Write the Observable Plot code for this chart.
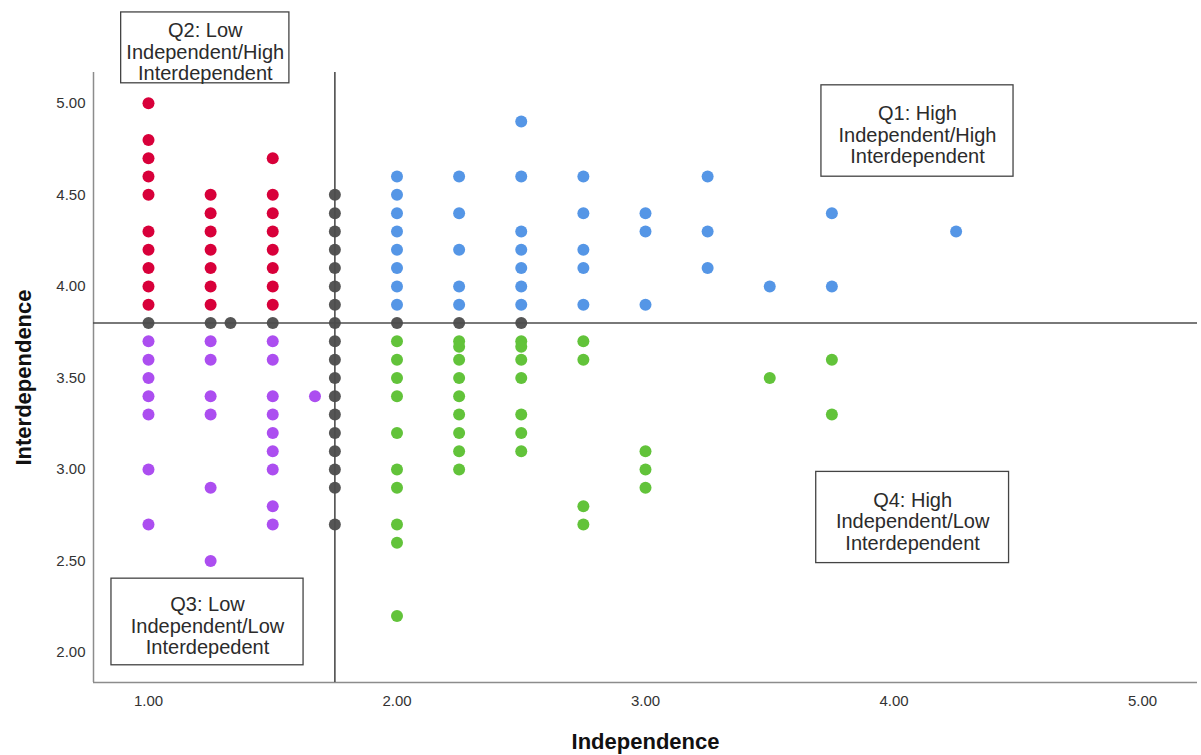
<!DOCTYPE html>
<html><head><meta charset="utf-8">
<script src="https://cdn.jsdelivr.net/npm/d3@7"></script>
<script src="https://cdn.jsdelivr.net/npm/@observablehq/plot@0.6"></script>
<style>
html,body{margin:0;padding:0;background:#fff;}
#chart{width:1201px;height:755px;}
svg{font-family:"Liberation Sans",Arial,sans-serif;}
</style></head><body><div id="chart"></div>
<script>
// [Independence, Interdependence]
const q1Points = [
  [2.0,4.6],[2.0,4.5],[2.0,4.4],[2.0,4.3],[2.0,4.2],[2.0,4.1],[2.0,4.0],[2.0,3.9],
  [2.25,4.6],[2.25,4.4],[2.25,4.2],[2.25,4.0],[2.25,3.9],
  [2.5,4.9],[2.5,4.6],[2.5,4.3],[2.5,4.2],[2.5,4.1],[2.5,4.0],[2.5,3.9],
  [2.75,4.6],[2.75,4.4],[2.75,4.2],[2.75,4.1],[2.75,3.9],
  [3.0,4.4],[3.0,4.3],[3.0,3.9],
  [3.25,4.6],[3.25,4.3],[3.25,4.1],
  [3.5,4.0],
  [3.75,4.4],[3.75,4.0],
  [4.25,4.3]
];
const q2Points = [
  [1.0,5.0],[1.0,4.8],[1.0,4.7],[1.0,4.6],[1.0,4.5],[1.0,4.3],[1.0,4.2],[1.0,4.1],[1.0,4.0],[1.0,3.9],
  [1.25,4.5],[1.25,4.4],[1.25,4.3],[1.25,4.2],[1.25,4.1],[1.25,4.0],[1.25,3.9],
  [1.5,4.7],[1.5,4.5],[1.5,4.4],[1.5,4.3],[1.5,4.2],[1.5,4.1],[1.5,4.0],[1.5,3.9]
];
const q3Points = [
  [1.0,3.7],[1.0,3.6],[1.0,3.5],[1.0,3.4],[1.0,3.3],[1.0,3.0],[1.0,2.7],
  [1.25,3.7],[1.25,3.6],[1.25,3.4],[1.25,3.3],[1.25,2.9],[1.25,2.5],
  [1.5,3.7],[1.5,3.6],[1.5,3.4],[1.5,3.3],[1.5,3.2],[1.5,3.1],[1.5,3.0],[1.5,2.8],[1.5,2.7],
  [1.67,3.4]
];
const q4Points = [
  [2.0,3.7],[2.0,3.6],[2.0,3.5],[2.0,3.4],[2.0,3.2],[2.0,3.0],[2.0,2.9],[2.0,2.7],[2.0,2.6],[2.0,2.2],
  [2.25,3.7],[2.25,3.67],[2.25,3.6],[2.25,3.5],[2.25,3.4],[2.25,3.3],[2.25,3.2],[2.25,3.1],[2.25,3.0],
  [2.5,3.7],[2.5,3.67],[2.5,3.6],[2.5,3.5],[2.5,3.3],[2.5,3.2],[2.5,3.1],
  [2.75,3.7],[2.75,3.6],[2.75,2.8],[2.75,2.7],
  [3.0,3.1],[3.0,3.0],[3.0,2.9],
  [3.5,3.5],
  [3.75,3.6],[3.75,3.3]
];
const onCutoffPoints = [
  [1.0,3.8],[1.25,3.8],[1.33,3.8],[1.5,3.8],
  [1.75,4.5],[1.75,4.4],[1.75,4.3],[1.75,4.2],[1.75,4.1],[1.75,4.0],[1.75,3.9],[1.75,3.8],
  [1.75,3.7],[1.75,3.6],[1.75,3.5],[1.75,3.4],[1.75,3.3],[1.75,3.2],[1.75,3.1],[1.75,3.0],[1.75,2.9],[1.75,2.7],
  [2.0,3.8],[2.25,3.8],[2.5,3.8]
];
const groupNames = ["Q1", "Q2", "Q3", "Q4", "Cutoff"];
const xTicks = [1, 2, 3, 4, 5];
const yTicks = [2.0, 2.5, 3.0, 3.5, 4.0, 4.5, 5.0];
const independenceCutoff = 1.75;
const interdependenceCutoff = 3.8;
const quadrantLabels = [
  "Q1: High\nIndependent/High\nInterdependent",
  "Q2: Low\nIndependent/High\nInterdependent",
  "Q3: Low\nIndependent/Low\nInterdepedent",
  "Q4: High\nIndependent/Low\nInterdependent"
];

// ---- layout / styling ----
const groupColors = ["#5596e6", "#d8003a", "#ac4ef0", "#62c33a", "#555555"];
const xDomain = [0.7787, 5.2213];
const yDomain = [1.837, 5.168];
// annotation box placement (data units)
const boxExtents = [
  {x1: 3.708, x2: 4.481, y1: 4.599, y2: 5.098},
  {x1: 0.890, x2: 1.567, y1: 5.109, y2: 5.496},
  {x1: 0.851, x2: 1.624, y1: 1.931, y2: 2.404},
  {x1: 3.687, x2: 4.463, y1: 2.489, y2: 2.987}
];
const boxes = quadrantLabels.map((label, i) => ({label, ...boxExtents[i],
  cx: (boxExtents[i].x1 + boxExtents[i].x2) / 2, cy: (boxExtents[i].y1 + boxExtents[i].y2) / 2}));

const pointSets = [q1Points, q2Points, q3Points, q4Points, onCutoffPoints];
const dots = pointSets.flatMap((pts, i) => pts.map(([x, y]) => ({x, y, group: groupNames[i]})));

const font = '"Liberation Sans", Arial, sans-serif';

const chart = Plot.plot({
  width: 1201,
  height: 755,
  marginLeft: 93,
  marginRight: 4,
  marginTop: 72,
  marginBottom: 73,
  style: {fontFamily: font, fontSize: "15px", background: "#fff", overflow: "visible"},
  x: {domain: xDomain},
  y: {domain: yDomain},
  color: {domain: groupNames, range: groupColors},
  marks: [
    Plot.axisX({ticks: xTicks, tickFormat: d3.format(".2f"), tickSize: 0, tickPadding: 13, fontSize: 15, fill: "#333", label: null}),
    Plot.axisY({ticks: yTicks, tickFormat: d3.format(".2f"), tickSize: 0, tickPadding: 8, fontSize: 15, fill: "#333", label: null}),
    Plot.ruleX([xDomain[0]], {stroke: "#8c8c8c", strokeWidth: 1.5}),
    Plot.ruleY([yDomain[0]], {stroke: "#8c8c8c", strokeWidth: 1.5}),
    Plot.dot(dots, {x: "x", y: "y", fill: "group", r: 6, stroke: "none"}),
    Plot.ruleX([independenceCutoff], {stroke: "#4d4d4d", strokeWidth: 1.6}),
    Plot.ruleY([interdependenceCutoff], {stroke: "#4d4d4d", strokeWidth: 1.6}),
    Plot.rect(boxes, {x1: "x1", x2: "x2", y1: "y1", y2: "y2", fill: "#fff", stroke: "#444", strokeWidth: 1.3}),
    Plot.text(boxes, {x: "cx", y: "cy", text: "label", fontSize: 20, lineHeight: 1.075, fill: "#2b2b2b", dy: 4}),
    Plot.text(["Independence"], {frameAnchor: "bottom", dy: 66, fontSize: 22, fontWeight: "bold", fill: "#111"}),
    Plot.text(["Interdependence"], {frameAnchor: "left", textAnchor: "middle", lineAnchor: "middle", dx: -70, rotate: -90, fontSize: 22, fontWeight: "bold", fill: "#111"})
  ]
});
document.getElementById("chart").appendChild(chart);
</script>
</body></html>
